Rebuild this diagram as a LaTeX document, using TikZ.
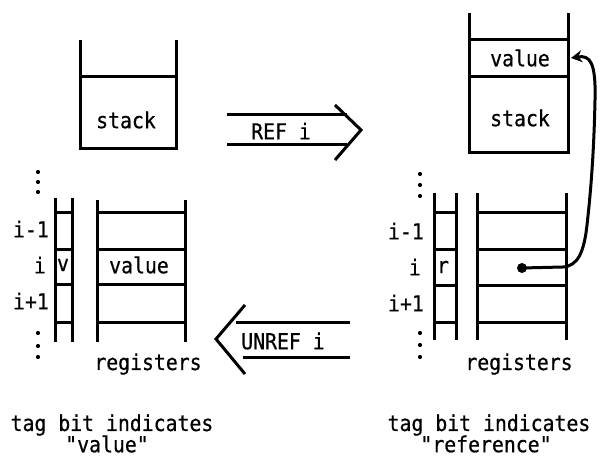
\documentclass[tikz,border=0pt]{standalone}
\usepackage{fontspec}
\setmonofont[FakeStretch=0.9,FakeBold=0.6]{DejaVu Sans Mono}
\usetikzlibrary{arrows.meta}
\begin{document}
\begin{tikzpicture}[x=1pt,y=-1pt,
  wall/.style={line width=3pt},
  lbl/.style={font=\ttfamily\fontsize{22}{24}\selectfont, inner sep=0pt},
  dotmark/.style={circle, fill=black, inner sep=0pt, minimum size=4.2pt},
  every node/.style={lbl}]
\useasboundingbox (0,0) rectangle (600,462);

% ---------- left: before REF ----------
% stack
\draw[wall] (80,40) -- (80,149) -- (176,149) -- (176,40);
\draw[wall] (80,77) -- (176,77);
\node (lstack) at (126,120) {stack};

% tag bit column
\draw[wall] (55,198) -- (55,342);
\draw[wall] (72,198) -- (72,342);
\foreach \y in {213,250,285,323} \draw[wall] (55,\y) -- (72,\y);
% register file
\draw[wall] (97,200) -- (97,342);
\draw[wall] (185,200) -- (185,342);
\foreach \y in {213,250,285,323} \draw[wall] (97,\y) -- (185,\y);

\foreach \y in {172,182,192,333,346,357} \node[dotmark] at (38,\y) {};
\node[anchor=east] (lim1) at (49,229) {i-1};
\node[anchor=east] (li)   at (46,265) {i};
\node[anchor=east] (lip1) at (49,301) {i+1};
\node (ltag) at (63,265) {v};
\node (lval) at (139,265) {value};
\node (lreg) at (148,364) {registers};

\node (lnote1) at (112,425) {tag bit indicates};
\node (lnote2) at (107,444) {"value"};

% ---------- right: after REF ----------
% stack with the pushed value
\draw[wall] (469,13) -- (469,153) -- (568,153) -- (568,13);
\draw[wall] (469,40) -- (568,40);
\draw[wall] (469,77) -- (568,77);
\node (rval) at (520,58) {value};
\node (rstack) at (520,118) {stack};
\coordinate (rvalE) at (571,58);

% tag bit column
\draw[wall] (434,193) -- (434,340);
\draw[wall] (456,193) -- (456,340);
\foreach \y in {213,250,286,323} \draw[wall] (434,\y) -- (456,\y);
% register file
\draw[wall] (477,193) -- (477,340);
\draw[wall] (566,193) -- (566,340);
\foreach \y in {213,250,286,323} \draw[wall] (477,\y) -- (566,\y);

\foreach \y in {174,185,196,333,345,357} \node[dotmark] at (420,\y) {};
\node[anchor=east] (rim1) at (424,231) {i-1};
\node[anchor=east] (ri)   at (421,267) {i};
\node[anchor=east] (rip1) at (424,303) {i+1};
\node (rtag) at (443,267) {r};
\node[circle, fill=black, inner sep=0pt, minimum size=10pt] (rptr) at (522,268) {};
\node (rreg) at (519,364) {registers};

\node (rnote1) at (489,425) {tag bit indicates};
\node (rnote2) at (486,444) {"reference"};

% pointer from register i to the value on the stack
\draw[line width=3pt, line cap=round, -{Stealth[length=11pt,width=12pt]}]
  (rptr.center) -- (563,267)
  .. controls (578,266) and (584,252) .. (587,225)
  .. controls (591,190) and (594,150) .. (595,100)
  .. controls (596,62) and (590,55) .. (rvalE);

% ---------- operations ----------
% REF i
\draw[wall] (227,115) -- (347,115);
\draw[wall] (227,145) -- (347,145);
\draw[wall, line join=miter] (335,105) -- (361,130) -- (335,160);
\node (refop) at (281,131) {REF i};

% UNREF i
\draw[wall] (236,323) -- (350,323);
\draw[wall] (243,358) -- (350,358);
\draw[wall, line join=miter] (245,305) -- (216,339) -- (245,374);
\node (unrefop) at (283,341) {UNREF i};
\end{tikzpicture}
\end{document}
